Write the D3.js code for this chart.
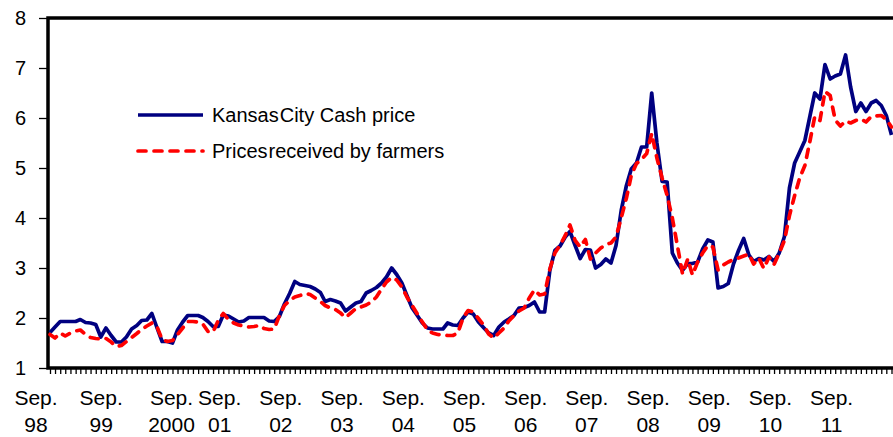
<!DOCTYPE html>
<html>
<head>
<meta charset="utf-8">
<script src="https://cdn.jsdelivr.net/npm/d3@7"></script>
<style>
  body { margin: 0; background: #fff; }
  text { font-family: "Liberation Sans", Arial, sans-serif; fill: #000; }
</style>
</head>
<body>
<script>
const w = 893;
const h = 437;

// monthly, Sep 1998 .. Jun 2012
const months = d3.timeMonth.range(new Date(1998, 8, 1), new Date(2012, 6, 1));

const kcCash = [
  1.71,1.82,1.93,1.93,1.93,1.93,1.97,1.91,1.90,1.87,1.62,1.80,
  1.65,1.52,1.52,1.62,1.78,1.85,1.95,1.96,2.09,1.80,1.53,1.53,
  1.50,1.76,1.92,2.05,2.05,2.05,2.01,1.93,1.83,1.83,2.06,2.04,
  1.98,1.92,1.94,2.01,2.01,2.01,2.01,1.94,1.93,2.03,2.28,2.49,
  2.73,2.67,2.65,2.63,2.58,2.51,2.33,2.37,2.34,2.30,2.14,2.22,
  2.30,2.33,2.50,2.55,2.61,2.70,2.82,3.00,2.87,2.70,2.45,2.20,
  2.05,1.90,1.80,1.78,1.78,1.78,1.90,1.86,1.85,2.00,2.12,2.08,
  1.92,1.81,1.70,1.65,1.82,1.92,1.98,2.05,2.20,2.21,2.25,2.32,
  2.12,2.12,2.95,3.35,3.44,3.62,3.73,3.45,3.19,3.37,3.36,3.00,
  3.07,3.18,3.10,3.45,4.15,4.65,4.98,5.10,5.42,5.42,6.50,5.50,
  4.73,4.72,3.30,3.10,2.95,3.09,3.09,3.12,3.38,3.56,3.52,2.60,
  2.63,2.69,3.08,3.35,3.59,3.26,3.13,3.19,3.16,3.23,3.13,3.30,
  3.63,4.60,5.10,5.32,5.55,6.05,6.50,6.38,7.07,6.78,6.84,6.88,
  7.26,6.62,6.13,6.30,6.13,6.30,6.35,6.25,6.05,5.66
];

const farmers = [
  1.67,1.60,1.70,1.64,1.70,1.74,1.76,1.67,1.61,1.59,1.58,1.59,
  1.52,1.43,1.45,1.53,1.61,1.69,1.77,1.84,1.90,1.82,1.57,1.53,
  1.55,1.67,1.80,1.93,1.93,1.92,1.88,1.73,1.72,1.95,2.09,1.97,
  1.90,1.86,1.84,1.82,1.83,1.85,1.79,1.77,1.78,2.05,2.25,2.35,
  2.42,2.45,2.49,2.47,2.40,2.33,2.25,2.20,2.17,2.10,2.01,2.10,
  2.19,2.22,2.26,2.32,2.42,2.58,2.72,2.81,2.76,2.62,2.42,2.25,
  2.08,1.92,1.76,1.70,1.67,1.66,1.65,1.65,1.70,2.00,2.15,2.12,
  1.99,1.86,1.68,1.60,1.70,1.80,1.94,2.05,2.14,2.20,2.40,2.56,
  2.46,2.48,2.98,3.30,3.46,3.65,3.86,3.55,3.42,3.57,3.18,3.30,
  3.40,3.47,3.50,3.62,4.00,4.40,4.85,5.09,5.17,5.29,5.69,5.20,
  4.80,4.45,4.00,3.45,2.88,3.18,2.86,3.12,3.30,3.45,3.42,2.96,
  3.06,3.12,3.17,3.20,3.24,3.28,3.08,3.20,2.99,3.22,3.07,3.30,
  3.55,4.05,4.45,4.80,5.05,5.55,6.03,5.95,6.53,6.45,5.96,5.84,
  5.94,5.90,5.95,5.98,5.92,6.03,6.04,6.05,5.97,5.82
];

const seriesNames = ["Kansas City Cash price", "Prices received by farmers"];
const yTicks = [1, 2, 3, 4, 5, 6, 7, 8];
const labelYears = ["98","99","2000","01","02","03","04","05","06","07","08","09","10","11"];

const plotLeft = 48, plotTop = 18, plotBottom = 368;

const x = d3.scaleTime()
  .domain([months[0], months[months.length - 1]])
  .range([50, 891.5]);

const y = d3.scaleLinear().domain([1, 8]).range([plotBottom, plotTop]);

const svg = d3.select("body").append("svg")
  .attr("width", w)
  .attr("height", h);

// month ticks under the category axis
const xAxis = svg.append("g")
  .attr("transform", `translate(0,${plotBottom})`)
  .call(d3.axisBottom(x).tickValues(months).tickSize(6).tickFormat(""));
xAxis.select(".domain").remove();
xAxis.selectAll("line").attr("stroke", "#000").attr("stroke-width", 1.3);

// y axis
const yAxis = svg.append("g")
  .attr("transform", `translate(${plotLeft},0)`)
  .call(d3.axisLeft(y).tickValues(yTicks).tickSize(9).tickPadding(13).tickFormat(d3.format("d")));
yAxis.select(".domain").remove();
yAxis.selectAll("line").attr("stroke", "#000").attr("stroke-width", 1.3);
yAxis.selectAll("text")
  .style("font-size", "20px")
  .style("font-family", "Liberation Sans, Arial, sans-serif");

// plot frame
svg.append("rect")
  .attr("x", plotLeft)
  .attr("y", plotTop)
  .attr("width", w + 20 - plotLeft)
  .attr("height", plotBottom - plotTop)
  .attr("fill", "none")
  .attr("stroke", "#000")
  .attr("stroke-width", 3.5);

// year labels, every September
const labelNudge = { "99": 4, "2000": 13 };
const lbl = svg.append("g").selectAll("text")
  .data(labelYears)
  .join("text")
  .attr("text-anchor", "middle")
  .attr("transform", (d, i) => `translate(${x(months[i * 12]) - 14 + (labelNudge[d] || 0)},0)`)
  .style("font-size", "21px");
lbl.append("tspan").attr("x", 0).attr("y", 405).text("Sep.");
lbl.append("tspan").attr("x", 0).attr("y", 432).text(d => d);

const line = d3.line()
  .x((d, i) => x(months[i]))
  .y(d => y(d));

svg.append("path")
  .datum(kcCash)
  .attr("d", line)
  .attr("fill", "none")
  .attr("stroke", "#000080")
  .attr("stroke-width", 3.7)
  .attr("stroke-linejoin", "round");

svg.append("path")
  .datum(farmers)
  .attr("d", line)
  .attr("fill", "none")
  .attr("stroke", "#ff0000")
  .attr("stroke-width", 3.7)
  .attr("stroke-dasharray", "8,8")
  .attr("stroke-linecap", "round")
  .attr("stroke-linejoin", "round");

// legend
const legend = svg.append("g");
const legendRows = [
  { name: seriesNames[0], color: "#000080", dash: null, y: 115 },
  { name: seriesNames[1], color: "#ff0000", dash: "8,8", y: 151 }
];
legendRows.forEach(r => {
  legend.append("line")
    .attr("x1", 138).attr("x2", 203)
    .attr("y1", r.y).attr("y2", r.y)
    .attr("stroke", r.color)
    .attr("stroke-width", 3.7)
    .attr("stroke-dasharray", r.dash)
    .attr("stroke-linecap", r.dash ? "round" : "butt");
  // first word sits tight against the second, as in the original
  const words = r.name.split(" ");
  const t = legend.append("text")
    .attr("x", 212)
    .attr("y", r.y + 7)
    .style("font-size", "20px");
  t.append("tspan").text(words[0]);
  t.append("tspan").attr("dx", 1).text(words.slice(1).join(" "));
});
</script>
</body>
</html>
